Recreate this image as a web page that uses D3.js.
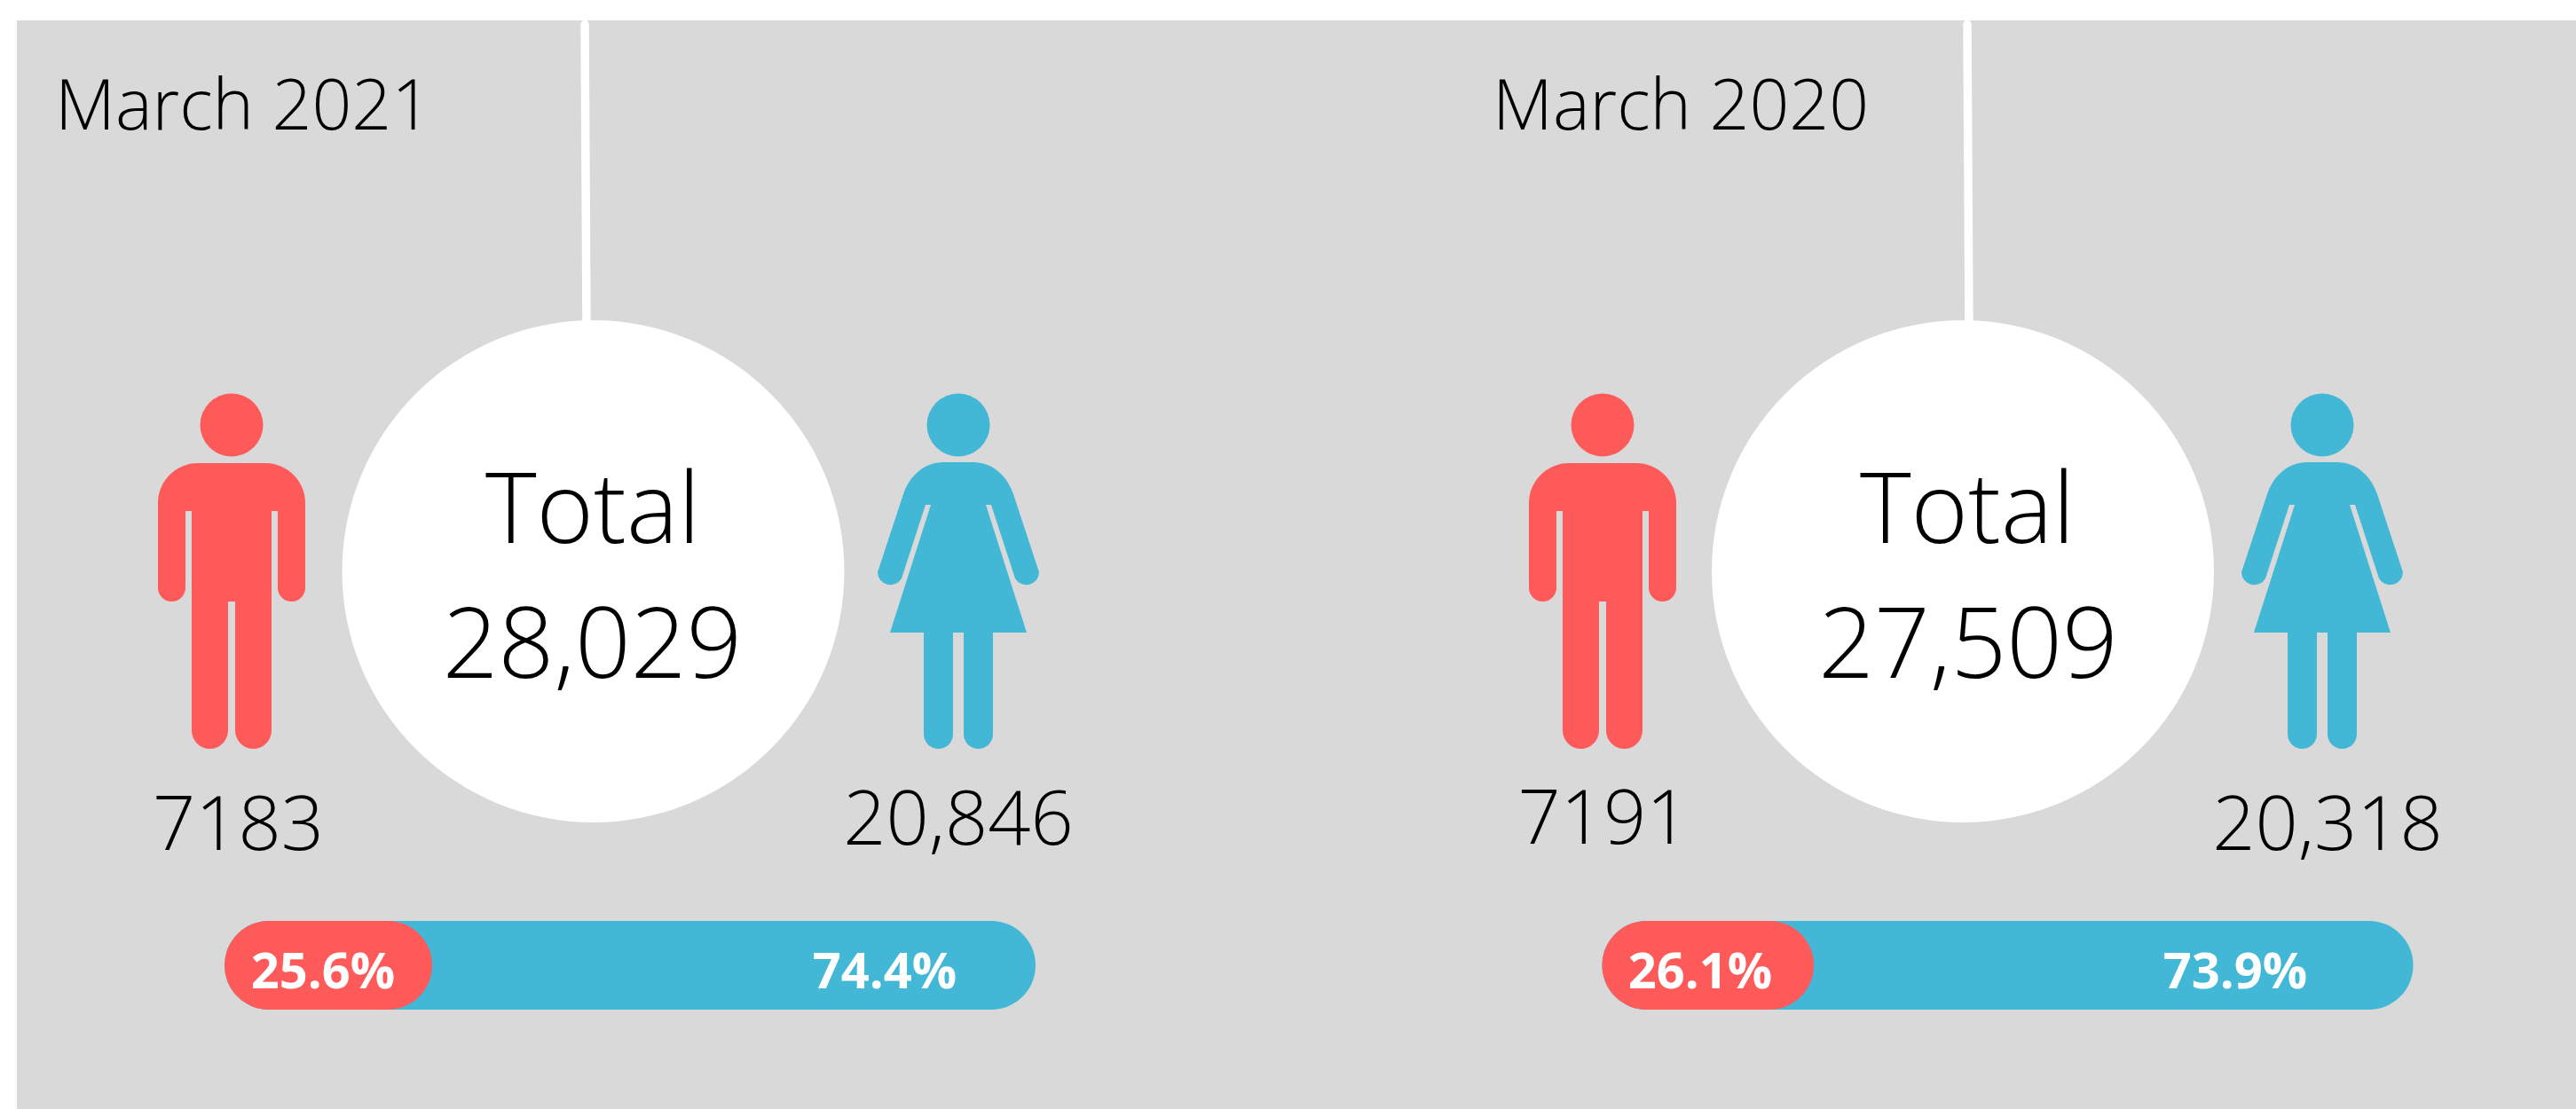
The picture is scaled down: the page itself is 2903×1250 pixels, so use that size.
<!DOCTYPE html>
<html>
<head>
<meta charset="utf-8">
<script src="https://cdnjs.cloudflare.com/ajax/libs/d3/7.8.5/d3.min.js"></script>
<style>
  html, body { margin: 0; padding: 0; background: #fff; }
  svg { display: block; }
  text { font-family: "Open Sans", sans-serif; font-weight: 300; fill: #000; }
  .pct { font-weight: 700; fill: #fff; font-size: 56px; }
</style>
</head>
<body>
<div id="chart"></div>
<script>
// values
const periods = ["March 2021", "March 2020"];
const totals = [28029, 27509];
const maleCounts = ["7183", "7191"];
const femaleCounts = ["20,846", "20,318"];
const malePercent = [25.6, 26.1];
const femalePercent = [74.4, 73.9];

// where things sit in each panel, the two panels aren't evenly spaced
const layout = [
  { titleX: 62, lineTop: 659, lineBottom: 661, circleX: 668.5, totalX: 668, valueX: 667.5, manX: 261, womanX: 1080,
    maleX: 268.5, maleY: 957.5, femaleX: 1080, femaleY: 952, barX: 253, maleLabelX: 364, femaleLabelX: 997 },
  { titleX: 1682, lineTop: 2217, lineBottom: 2219, circleX: 2212, totalX: 2217, valueX: 2218, manX: 1806, womanX: 2617,
    maleX: 1807, maleY: 951, femaleX: 2623, femaleY: 957.5, barX: 1805.5, maleLabelX: 1916, femaleLabelX: 2519 }
];

const width = 2903;
const height = 1250;
const red = "#ff5a5a";
const blue = "#42b7d6";

const manBody = "M-38,522H38A45,45 0 0 1 83,567V662.5A15.5,15.5 0 0 1 52,662.5V576H45V823.5A20.5,20.5 0 0 1 4,823.5V678H-4V823.5A20.5,20.5 0 0 1 -45,823.5V576H-52V662.5A15.5,15.5 0 0 1 -83,662.5V567A45,45 0 0 1 -38,522Z";
const womanBody = "M-17,521H17C38,521 55,536 62,557L91,645A14.5,14.5 0 0 1 64,652L37,569H31L77,713H39V827.5A16.5,16.5 0 0 1 6,827.5V713H-6V827.5A16.5,16.5 0 0 1 -39,827.5V713H-77L-31,569H-37L-64,652A14.5,14.5 0 0 1 -91,645L-62,557C-55,536 -38,521 -17,521Z";

const barScale = d3.scaleLinear().domain([0, 100]).range([0, 914]);
const totalFormat = d3.format(",");

const svg = d3.select("#chart").append("svg")
  .attr("width", width)
  .attr("height", height);

svg.append("rect")
  .attr("x", 19)
  .attr("y", 23)
  .attr("width", width - 19)
  .attr("height", height - 23)
  .attr("fill", "#d9d9d9");

const panels = svg.selectAll("g.panel")
  .data(periods.map((p, i) => i))
  .enter()
  .append("g")
  .attr("class", "panel");

panels.append("text")
  .attr("x", i => layout[i].titleX)
  .attr("y", 146)
  .attr("font-size", 78.7)
  .text(i => periods[i]);

panels.append("line")
  .attr("x1", i => layout[i].lineTop)
  .attr("y1", 27.5)
  .attr("x2", i => layout[i].lineBottom)
  .attr("y2", 370)
  .attr("stroke", "#fff")
  .attr("stroke-width", 9.5)
  .attr("stroke-linecap", "round");

panels.append("circle")
  .attr("cx", i => layout[i].circleX)
  .attr("cy", 644)
  .attr("r", 283)
  .attr("fill", "#fff");

panels.append("text")
  .attr("x", i => layout[i].totalX)
  .attr("y", 612)
  .attr("text-anchor", "middle")
  .attr("font-size", 110)
  .text("Total");

panels.append("text")
  .attr("x", i => layout[i].valueX)
  .attr("y", 763.5)
  .attr("text-anchor", "middle")
  .attr("font-size", 110)
  .text(i => totalFormat(totals[i]));

// people icons
const man = panels.append("g").attr("transform", i => `translate(${layout[i].manX},0)`).attr("fill", red);
man.append("ellipse").attr("cy", 479).attr("rx", 35.5).attr("ry", 35.5);
man.append("path").attr("d", manBody);

const woman = panels.append("g").attr("transform", i => `translate(${layout[i].womanX},0)`).attr("fill", blue);
woman.append("ellipse").attr("cy", 479).attr("rx", 35.5).attr("ry", 35.5);
woman.append("path").attr("d", womanBody);

panels.append("text")
  .attr("x", i => layout[i].maleX)
  .attr("y", i => layout[i].maleY)
  .attr("text-anchor", "middle")
  .attr("font-size", 84.5)
  .text(i => maleCounts[i]);

panels.append("text")
  .attr("x", i => layout[i].femaleX)
  .attr("y", i => layout[i].femaleY)
  .attr("text-anchor", "middle")
  .attr("font-size", 84.5)
  .text(i => femaleCounts[i]);

// share bars
panels.append("rect")
  .attr("x", i => layout[i].barX)
  .attr("y", 1038)
  .attr("width", barScale(100))
  .attr("height", 100)
  .attr("rx", 50)
  .attr("fill", blue);

panels.append("rect")
  .attr("x", i => layout[i].barX)
  .attr("y", 1038)
  .attr("width", i => barScale(malePercent[i]))
  .attr("height", 100)
  .attr("rx", 50)
  .attr("fill", red);

panels.append("text")
  .attr("class", "pct")
  .attr("x", i => layout[i].maleLabelX)
  .attr("y", 1114)
  .attr("text-anchor", "middle")
  .text(i => malePercent[i] + "%");

panels.append("text")
  .attr("class", "pct")
  .attr("x", i => layout[i].femaleLabelX)
  .attr("y", 1114)
  .attr("text-anchor", "middle")
  .text(i => femalePercent[i] + "%");
</script>
</body>
</html>
